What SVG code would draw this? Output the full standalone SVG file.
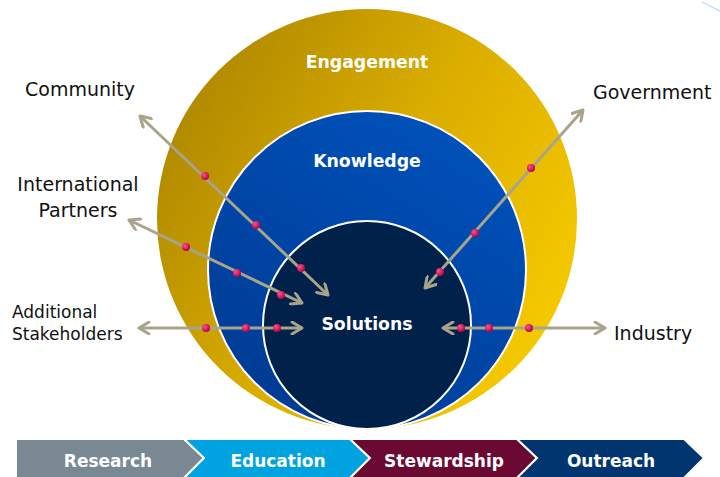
<svg xmlns="http://www.w3.org/2000/svg" width="720" height="477" viewBox="0 0 720 477">
<defs>
<linearGradient id="gOuter" x1="0" y1="0.15" x2="1" y2="0.75">
<stop offset="0" stop-color="#A98300"/>
<stop offset="0.5" stop-color="#D9AC00"/>
<stop offset="1" stop-color="#F8CC00"/>
</linearGradient>
<linearGradient id="gKnow" x1="0.8" y1="0" x2="0.2" y2="1">
<stop offset="0" stop-color="#0052BC"/>
<stop offset="1" stop-color="#003A92"/>
</linearGradient>
<radialGradient id="gDot" cx="0.35" cy="0.35" r="0.7">
<stop offset="0" stop-color="#FF4F8E"/>
<stop offset="1" stop-color="#B0003E"/>
</radialGradient>
<marker id="ah" viewBox="0 0 14 14" refX="12" refY="7" markerWidth="14" markerHeight="14" markerUnits="userSpaceOnUse" orient="auto-start-reverse">
<path d="M2,1 L12,7 L2,13" fill="none" stroke="#A8A48C" stroke-width="3" stroke-linecap="round" stroke-linejoin="round"/>
</marker>
<style>
.lbl{font-family:"DejaVu Sans",Verdana,sans-serif;fill:#111;font-size:19px}
.small{font-size:17px}
.ttl{font-family:"DejaVu Sans",Verdana,sans-serif;font-weight:bold;fill:#fff;font-size:17.3px;text-anchor:middle}
.bar{font-family:"DejaVu Sans",Verdana,sans-serif;font-weight:bold;fill:#fff;font-size:17px;text-anchor:middle}
.arr{stroke:#A8A48C;stroke-width:3;fill:none;marker-start:url(#ah);marker-end:url(#ah)}
.dot{fill:url(#gDot)}
.chev{stroke:#fff;stroke-width:2}
</style>
</defs>
<line x1="702" y1="2" x2="720" y2="11" stroke="#A9CDF2" stroke-width="1"/>
<g id="engagement">
<circle cx="367" cy="219" r="210" fill="url(#gOuter)"/>
<text class="ttl" x="367" y="68">Engagement</text>
</g>
<g id="knowledge">
<circle cx="367" cy="270" r="159" fill="url(#gKnow)" stroke="#fff" stroke-width="2"/>
<text class="ttl" x="367" y="167">Knowledge</text>
</g>
<g id="solutions">
<circle cx="367" cy="325" r="104" fill="#00214A" stroke="#fff" stroke-width="2"/>
<text class="ttl" x="367" y="330">Solutions</text>
</g>
<g id="connectors">
<line class="arr" x1="140" y1="116" x2="328" y2="295"/>
<line class="arr" x1="129" y1="220" x2="302" y2="303"/>
<line class="arr" x1="139" y1="328" x2="302" y2="328"/>
<line class="arr" x1="583" y1="110" x2="425" y2="288"/>
<line class="arr" x1="443" y1="328" x2="605" y2="328"/>
<circle class="dot" cx="205" cy="176" r="4"/>
<circle class="dot" cx="256" cy="225" r="4"/>
<circle class="dot" cx="301" cy="268" r="4"/>
<circle class="dot" cx="186" cy="247" r="4"/>
<circle class="dot" cx="237" cy="273" r="4"/>
<circle class="dot" cx="281" cy="295" r="4"/>
<circle class="dot" cx="206" cy="328" r="4"/>
<circle class="dot" cx="246" cy="328" r="4"/>
<circle class="dot" cx="277" cy="328" r="4"/>
<circle class="dot" cx="531" cy="168" r="4"/>
<circle class="dot" cx="475" cy="233" r="4"/>
<circle class="dot" cx="440" cy="272" r="4"/>
<circle class="dot" cx="461" cy="328" r="4"/>
<circle class="dot" cx="489" cy="328" r="4"/>
<circle class="dot" cx="529" cy="328" r="4"/>
</g>
<g id="community"><text class="lbl" x="25" y="96">Community</text></g>
<g id="government"><text class="lbl" x="593" y="99">Government</text></g>
<g id="international"><text class="lbl" x="78" y="191" text-anchor="middle">International</text><text class="lbl" x="78" y="217" text-anchor="middle">Partners</text></g>
<g id="additional"><text class="lbl small" x="12" y="318">Additional</text><text class="lbl small" x="12" y="340">Stakeholders</text></g>
<g id="industry"><text class="lbl" x="614" y="340">Industry</text></g>
<g id="research">
<polygon class="chev" points="16,439 184,439 204,458 184,478 16,478" fill="#7A8893"/>
<text class="bar" x="108" y="467">Research</text>
</g>
<g id="education">
<polygon class="chev" points="184,439 350,439 370,458 350,478 184,478 204,458" fill="#00A3E0"/>
<text class="bar" x="278" y="467">Education</text>
</g>
<g id="stewardship">
<polygon class="chev" points="350,439 517,439 537,458 517,478 350,478 370,458" fill="#6A0A33"/>
<text class="bar" x="444" y="467">Stewardship</text>
</g>
<g id="outreach">
<polygon class="chev" points="517,439 684,439 704,458 684,478 517,478 537,458" fill="#003570"/>
<text class="bar" x="611" y="467">Outreach</text>
</g>
</svg>
